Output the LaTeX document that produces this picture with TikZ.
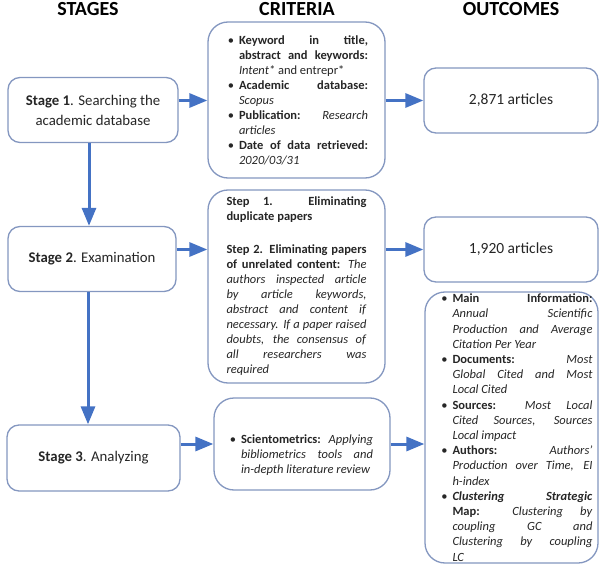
\documentclass[tikz,border=0pt]{standalone}
\usepackage{fontspec}
\setmainfont{Carlito}
\usepackage{enumitem}
\usetikzlibrary{arrows.meta}
\definecolor{flowblue}{HTML}{4472C4}
\definecolor{boxline}{HTML}{8497C0}
\setlist[itemize]{label=\textbullet, leftmargin=10pt, labelsep=5pt,
  topsep=0pt, itemsep=0pt, parsep=0pt, partopsep=0pt}
\newcommand{\bodyfont}{\fontsize{12.5}{15}\selectfont}

\begin{document}
\begin{tikzpicture}[x=1pt,y=-1pt,
  box/.style={draw=boxline, line width=1.3pt, rounded corners=12pt, fill=white,
    inner sep=0pt, text=black!85},
  bigbox/.style={box, rounded corners=20pt},
  stagebox/.style={box, font=\fontsize{14.8}{20}\selectfont},
  outbox/.style={box, minimum width=174pt, minimum height=65pt, font=\fontsize{15.5}{18}\selectfont},
  flow/.style={draw=flowblue, line width=3pt, -{Triangle[length=18pt,width=14pt]}},
  head/.style={font=\bfseries\fontsize{20}{22}\selectfont}]
  \useasboundingbox (0,0) rectangle (600,567);

  % column titles
  \node[head] (tstages) at (88,9) {STAGES};
  \node[head] (tcrit) at (297,9) {CRITERIA};
  \node[head] (tout) at (511,9) {OUTCOMES};

  % stages
  \node[stagebox, minimum width=170pt, minimum height=65pt, align=center]
    (stage1) at (93,110) {\textbf{Stage 1}. Searching the\\academic database};
  \node[stagebox, minimum width=168pt, minimum height=65pt] (stage2) at (92,259) {\textbf{Stage 2}. Examination};
  \node[stagebox, minimum width=173pt, minimum height=66pt] (stage3) at (93.5,458) {\textbf{Stage 3}. Analyzing};

  % criteria
  \node[bigbox, minimum width=177pt, minimum height=156pt] (crit1) at (296.5,100) {%
    \hspace*{4pt}\begin{minipage}{139pt}\bodyfont
    \begin{itemize}
      \item \textbf{Keyword in title,}\linebreak\textbf{abstract and keywords:}\linebreak\textit{Intent*} and entrepr*
      \item \textbf{Academic database:}\linebreak\textit{Scopus}
      \item \textbf{Publication:} \textit{Research}\linebreak\textit{articles}
      \item \textbf{Date of data retrieved:}\linebreak\textit{2020/03/31}
    \end{itemize}
    \end{minipage}};
  \node[bigbox, minimum width=177pt, minimum height=193pt] (crit2) at (296.5,286.5) {%
    \begin{minipage}{140pt}\bodyfont
    \textbf{Step 1. Eliminating}\linebreak\textbf{duplicate papers}\par\vspace{18pt}
    \textbf{Step 2. Eliminating papers}\linebreak\textbf{of unrelated content:} \textit{The}\linebreak
    \textit{authors inspected article}\linebreak\textit{by article keywords,}\linebreak
    \textit{abstract and content if}\linebreak\textit{necessary. If a paper raised}\linebreak
    \textit{doubts, the consensus of}\linebreak\textit{all researchers was}\linebreak\textit{required}
    \end{minipage}};
  \node[bigbox, minimum width=176pt, minimum height=92pt] (crit3) at (302,444) {%
    \begin{minipage}{142pt}\bodyfont\vspace*{22pt}
    \begin{itemize}
      \item \textbf{Scientometrics:} \textit{Applying}\linebreak\textit{bibliometrics tools and}\linebreak\textit{in-depth literature review}
    \end{itemize}
    \end{minipage}};

  % outcomes
  \node[outbox] (out1) at (511,100.5) {2,871 articles};
  \node[outbox] (out2) at (511,249.5) {1,920 articles};
  \node[bigbox, minimum width=173pt, minimum height=271pt] (out3) at (511.5,427.5) {%
    \hspace*{12pt}\begin{minipage}{150pt}\fontsize{12.5}{15.2}\selectfont
    \begin{itemize}
      \item \textbf{Main Information:}\linebreak\textit{Annual Scientific}\linebreak\textit{Production and Average}\linebreak\textit{Citation Per Year}
      \item \textbf{Documents:} \textit{Most}\linebreak\textit{Global Cited and Most}\linebreak\textit{Local Cited}
      \item \textbf{Sources:} \textit{Most Local}\linebreak\textit{Cited Sources, Sources}\linebreak\textit{Local impact}
      \item \textbf{Authors:} \textit{Authors'}\linebreak\textit{Production over Time, EI}\linebreak\textit{h-index}
      \item \textbf{\textit{Clustering Strategic}}\linebreak\textbf{Map:} \textit{Clustering by}\linebreak\textit{coupling GC and}\linebreak\textit{Clustering by coupling}\linebreak\textit{LC}
    \end{itemize}
    \end{minipage}};

  % arrows
  \draw[flow] ([xshift=-4pt]stage1.south) -- ([xshift=-4pt]stage1.south |- stage2.north);
  \draw[flow] ([xshift=-4pt]stage2.south) -- ([xshift=-4pt]stage2.south |- stage3.north);
  \draw[flow] (stage1.east |- out1) -- (crit1.west |- out1);
  \draw[flow] (crit1.east |- out1) -- (out1.west);
  \draw[flow] (stage2.east |- out2) -- (crit2.west |- out2);
  \draw[flow] (crit2.east |- out2) -- (out2.west);
  \draw[flow] (stage3.east |- crit3) -- (crit3.west);
  \draw[flow] (crit3.east) -- (out3.west |- crit3);
\end{tikzpicture}
\end{document}
